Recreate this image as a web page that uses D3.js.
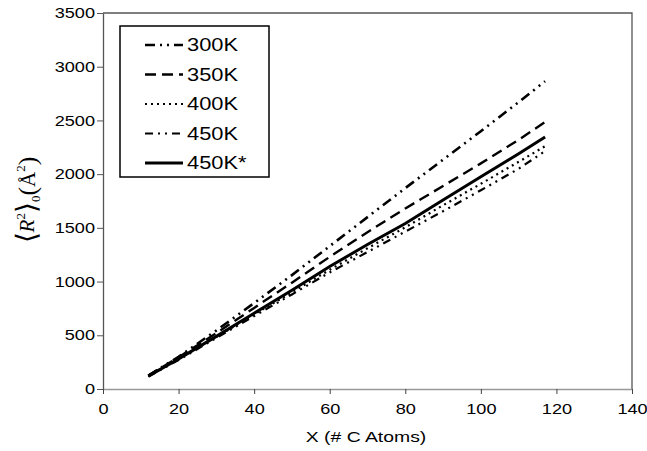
<!DOCTYPE html>
<html>
<head>
<meta charset="utf-8">
<script src="https://cdn.jsdelivr.net/npm/d3@7"></script>
<style>
  body { margin: 0; background: #fff; }
  text { font-family: "Liberation Sans", Arial, sans-serif; fill: #000; }
</style>
</head>
<body>
<svg id="container" width="647" height="451"></svg>
<script>
// data
const xValues = [12, 20, 30, 40, 50, 60, 70, 80, 90, 100, 110, 117];
const r300 = [125, 300, 545, 800, 1060, 1330, 1600, 1870, 2135, 2400, 2670, 2865];
const r350 = [125, 295, 520, 755, 990, 1230, 1460, 1680, 1890, 2100, 2320, 2485];
const r400 = [120, 280, 485, 695, 900, 1110, 1310, 1505, 1710, 1910, 2115, 2260];
const r450 = [115, 270, 475, 680, 880, 1085, 1275, 1465, 1655, 1850, 2050, 2215];
const r450s = [120, 280, 490, 705, 920, 1140, 1345, 1540, 1760, 1975, 2190, 2345];
const seriesNames = ["300K", "350K", "400K", "450K", "450K*"];
const xTicks = [0, 20, 40, 60, 80, 100, 120, 140];
const yTicks = [0, 500, 1000, 1500, 2000, 2500, 3000, 3500];

const series = [
    { name: seriesNames[0], values: r300, dash: "10,5,2,5,2,5", w: 2.6 },
    { name: seriesNames[1], values: r350, dash: "11,6", w: 2.4 },
    { name: seriesNames[2], values: r400, dash: "2,4", w: 2.2 },
    { name: seriesNames[3], values: r450, dash: "8,5,2,5,2,5", w: 2.2 },
    { name: seriesNames[4], values: r450s, dash: null, w: 3 }
];

const svg = d3.select('#container');
const margin = { top: 13, right: 15, bottom: 62, left: 103 };
const width = 647 - margin.left - margin.right;
const height = 451 - margin.top - margin.bottom;
const sx = 1.25; // the picture's text is wide

const xScale = d3.scaleLinear().domain([0, 140]).range([0, width]);
const yScale = d3.scaleLinear().domain([0, 3500]).range([height, 0]);

const g = svg.append('g')
    .attr('transform', 'translate(' + margin.left + ',' + margin.top + ')');

// frame (top and right)
g.append('path')
    .attr('d', 'M0,0H' + width + 'V' + height)
    .attr('fill', 'none')
    .attr('stroke', '#555')
    .attr('stroke-width', 1.3);

const yAxis = g.append('g')
    .call(d3.axisLeft(yScale).tickValues(yTicks).tickFormat(d3.format('d')).tickSize(6).tickSizeOuter(0));
yAxis.select('.domain').attr('stroke', '#555').attr('stroke-width', 1.3);
yAxis.selectAll('.tick line').attr('stroke', '#555');
yAxis.selectAll('text')
    .attr('x', -8 / sx)
    .attr('transform', 'scale(' + sx + ',1)')
    .style('font-size', '14.5px');

const xAxis = g.append('g')
    .attr('transform', 'translate(0,' + height + ')')
    .call(d3.axisBottom(xScale).tickValues(xTicks).tickSize(5).tickPadding(10).tickSizeOuter(0));
xAxis.select('.domain').attr('stroke', '#999').attr('stroke-width', 1.5);
xAxis.selectAll('.tick line').attr('stroke', '#444');
xAxis.selectAll('text')
    .attr('transform', 'scale(' + sx + ',1)')
    .style('font-size', '14.5px');

const line = d3.line()
    .x((d, i) => xScale(xValues[i]))
    .y(d => yScale(d));

for (let s of series) {
    g.append('path')
        .datum(s.values)
        .attr('fill', 'none')
        .attr('stroke', '#000')
        .attr('stroke-width', s.w)
        .attr('stroke-dasharray', s.dash)
        .attr('d', line);
}

// legend
const legend = svg.append('g').attr('transform', 'translate(120,26)');
legend.append('rect')
    .attr('width', 149).attr('height', 151)
    .attr('fill', '#fff')
    .attr('stroke', '#000')
    .attr('stroke-width', 1.5);
series.forEach((s, i) => {
    const y = 19 + i * 29.5;
    legend.append('line')
        .attr('x1', 25).attr('x2', 63)
        .attr('y1', y).attr('y2', y)
        .attr('stroke', '#000')
        .attr('stroke-width', s.w)
        .attr('stroke-dasharray', s.dash);
    legend.append('text')
        .attr('transform', 'translate(67,' + (y + 6) + ') scale(' + sx + ',1)')
        .style('font-size', '17.5px')
        .text(s.name);
});

// axis titles
svg.append('text')
    .attr('transform', 'translate(366,442) scale(' + sx + ',1)')
    .attr('text-anchor', 'middle')
    .style('font-size', '15.5px')
    .text('X (# C Atoms)');

const yt = svg.append('text')
    .attr('transform', 'translate(34,200) rotate(-90)')
    .attr('text-anchor', 'middle')
    .style('font-family', '"Liberation Serif", "Times New Roman", serif')
    .style('font-size', '21px');
yt.append('tspan').style('font-size', '28px').attr('dy', 2).text('\u27E8');
yt.append('tspan').style('font-style', 'italic').attr('dy', -2).text('R');
yt.append('tspan').style('font-size', '13px').attr('dy', -9).text('2');
yt.append('tspan').style('font-size', '28px').attr('dy', 11).text('\u27E9');
yt.append('tspan').style('font-size', '13px').attr('dy', 4).text('0');
yt.append('tspan').style('font-size', '26px').attr('dy', -4).text('(');
yt.append('tspan').attr('dy', -1).text('\u00C5');
yt.append('tspan').style('font-size', '13px').attr('dy', -10).text('2');
yt.append('tspan').style('font-size', '26px').attr('dy', 11).text(')');
</script>
</body>
</html>
